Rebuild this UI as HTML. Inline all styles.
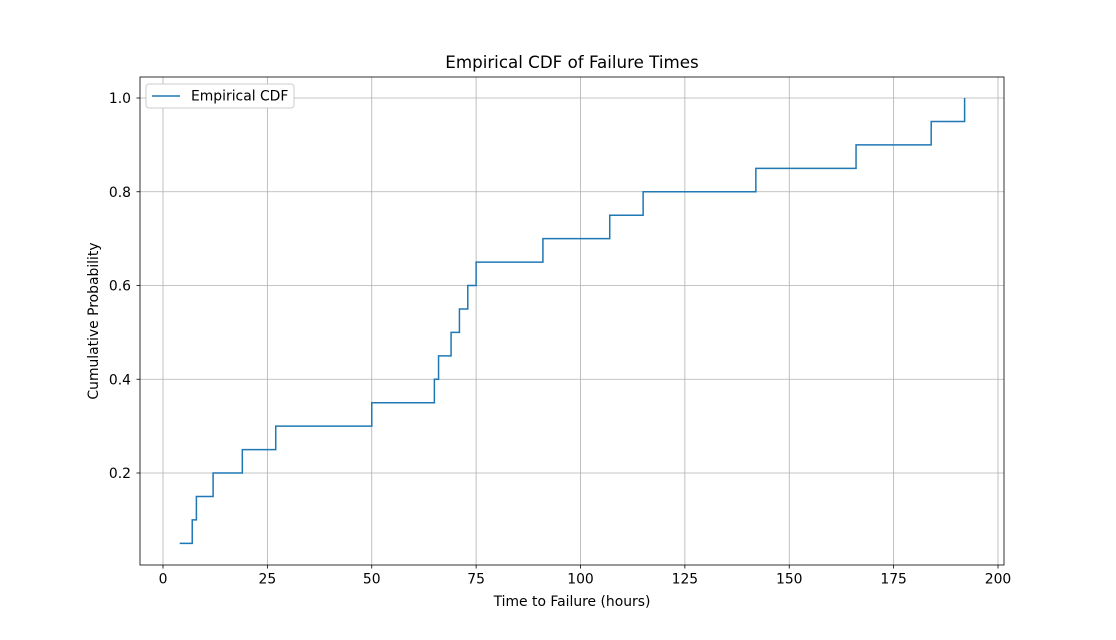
<!DOCTYPE html>
<html><head><meta charset="utf-8"><style>
body{margin:0;background:#fff;font-family:"Liberation Sans","DejaVu Sans",sans-serif}
svg text{font-family:"DejaVu Sans","Liberation Sans",sans-serif}
</style></head><body>
<svg id="chart" width="1116" height="635" xmlns="http://www.w3.org/2000/svg">
<rect width="1116" height="635" fill="#fff"/>
<g id="grid"></g>
<g id="ticks"></g>
<path id="line" fill="none" stroke="#1f77b4" stroke-width="1.5"/>
<rect x="140" y="77" width="864" height="488" fill="none" stroke="#000" stroke-width="0.8"/>
<text x="572" y="68" font-size="16.7" text-anchor="middle">Empirical CDF of Failure Times</text>
<text x="572" y="606" font-size="13.9" text-anchor="middle">Time to Failure (hours)</text>
<text transform="translate(98,321) rotate(-90)" font-size="13.9" text-anchor="middle">Cumulative Probability</text>
<g>
<rect x="146" y="84" width="148" height="24" rx="3" fill="#fff" stroke="#ccc"/>
<line x1="152" y1="96" x2="180" y2="96" stroke="#1f77b4" stroke-width="1.5"/>
<text x="191" y="100.5" font-size="13.9">Empirical CDF</text>
</g>
</svg>
<script>
const failureTimes=[4,7,8,12,19,27,50,65,66,69,71,73,75,91,107,115,142,166,184,192];
const xTicks=[0,25,50,75,100,125,150,175,200];
const yTicks=[0.2,0.4,0.6,0.8,1.0];
const xs=v=>163+v*4.175;
const ys=v=>566.75-v*468.75;
const ns="http://www.w3.org/2000/svg";
const g=document.getElementById('grid'),t=document.getElementById('ticks');
function mk(tag,attrs,parent,txt){const e=document.createElementNS(ns,tag);for(const k in attrs)e.setAttribute(k,attrs[k]);if(txt!==undefined)e.textContent=txt;parent.appendChild(e);return e;}
xTicks.forEach(v=>{const x=xs(v);
const l=mk('line',{x1:x,x2:x,y1:77,y2:565,stroke:'#b0b0b0','stroke-width':0.8},g);


mk('line',{x1:x,x2:x,y1:565,y2:568.5,stroke:'#000','stroke-width':0.8},t);
const tx=mk('text',{x:x,y:583.5,'font-size':13.9,'text-anchor':'middle'},t,String(v));

});
yTicks.forEach(v=>{const y=ys(v);
const l=mk('line',{x1:140,x2:1004,y1:y,y2:y,stroke:'#b0b0b0','stroke-width':0.8},g);


mk('line',{x1:136.5,x2:140,y1:y,y2:y,stroke:'#000','stroke-width':0.8},t);
const tx=mk('text',{x:131,y:y+5,'font-size':13.9,'text-anchor':'end'},t,v.toFixed(1));

});
const n=failureTimes.length;let d='';
failureTimes.forEach((v,i)=>{const y=ys((i+1)/n);
if(i===0)d+=`M${xs(v)},${y}`;else d+=`V${y}`;
if(i<n-1)d+=`H${xs(failureTimes[i+1])}`;});
document.getElementById('line').setAttribute('d',d);
</script>
</body></html>
